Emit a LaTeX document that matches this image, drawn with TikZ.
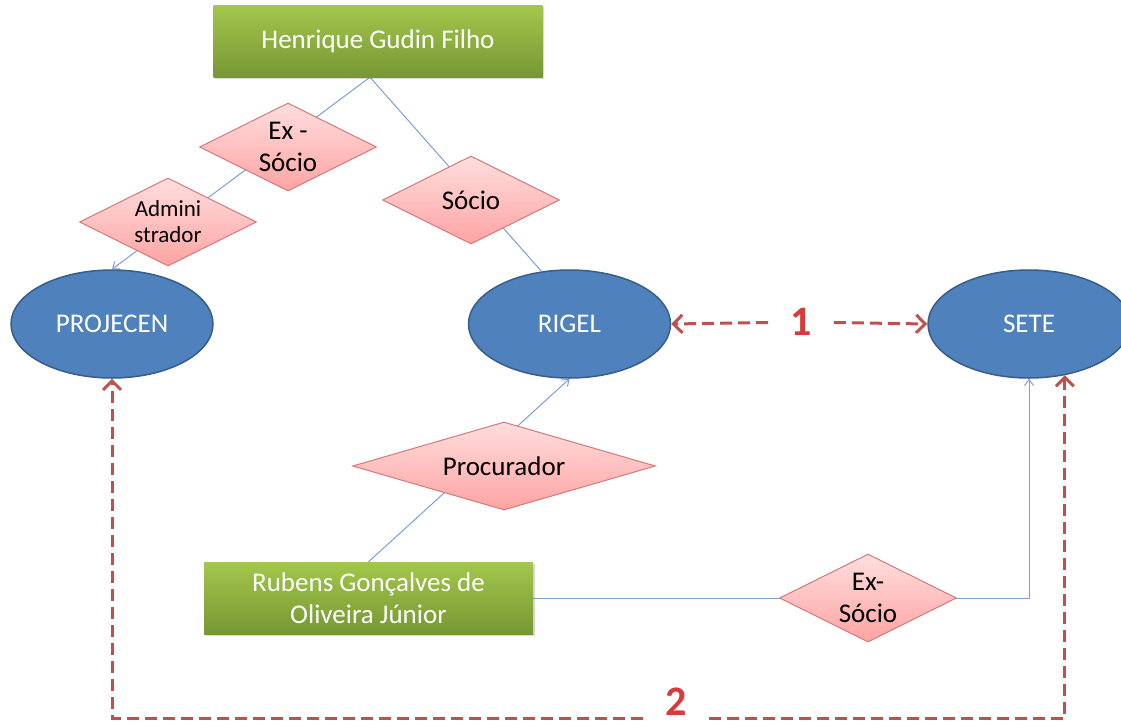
\documentclass[tikz,border=0pt]{standalone}
\usepackage{fontspec}
\setmainfont{Carlito}
\usetikzlibrary{positioning,shapes.geometric,arrows.meta,shadows}
\pgfdeclarelayer{bg}
\pgfsetlayers{bg,main}
\definecolor{greentop}{RGB}{163,199,76}
\definecolor{greenbot}{RGB}{118,151,52}
\definecolor{companyblue}{RGB}{79,129,189}
\definecolor{companyborder}{RGB}{56,93,138}
\definecolor{roletop}{RGB}{255,222,222}
\definecolor{rolebot}{RGB}{255,163,163}
\definecolor{roleborder}{RGB}{214,120,120}
\definecolor{linkblue}{RGB}{124,160,212}
\definecolor{dashred}{RGB}{192,80,77}
\definecolor{numred}{RGB}{218,58,58}
\newcommand{\bigtext}{\fontsize{27}{32}\selectfont}

\begin{document}
\begin{tikzpicture}[x=1pt, y=-1pt,
person/.style={rectangle, draw=none, top color=greentop, bottom color=greenbot, minimum width=329pt, minimum height=72pt, text=white, font=\bigtext, align=center, drop shadow={shadow xshift=1.5pt, shadow yshift=-1.5pt, opacity=0.3}},
company/.style={ellipse, draw=companyborder, line width=1.5pt, fill=companyblue, minimum width=202pt, minimum height=108pt, text=white, font=\bigtext},
role/.style={diamond, draw=roleborder, line width=1pt, top color=roletop, bottom color=rolebot, minimum width=177pt, minimum height=88pt, inner sep=0pt},
roletext/.style={font=\bigtext, align=center},
link/.style={draw=linkblue, line width=1pt},
linkarrow/.style={link, -{Straight Barb[length=6pt, width=9pt]}},
dashlink/.style={draw=dashred, line width=3pt, dash pattern=on 12pt off 6pt, -{Straight Barb[length=9pt, width=18pt]}},
number/.style={text=numred, font=\fontsize{42}{42}\selectfont\bfseries, inner xsep=22pt, inner ysep=1pt}
]
\useasboundingbox (0,0) rectangle (1121,726);

%Nodes
\node[person] (henrique) at (378,41) {Henrique Gudin Filho};
\node[company] (projecen) at (112,324) {PROJECEN};
\node[company] (rigel) [right=254pt of projecen] {RIGEL};
\node[company] (sete) [right=256pt of rigel] {SETE};
\node[role, label={[roletext]center:{Ex -\\Sócio}}] (exsocio) at (288,147) {};
\node[role, label={[roletext, font=\fontsize{23}{26}\selectfont]center:{Admini\\strador}}] (admin) at (168,222) {};
\node[role, label={[roletext]center:Sócio}] (socio) at (471,200) {};
\node[role, minimum width=303pt, label={[roletext]center:Procurador}] (procurador) at (504,466) {};
\node[person] (rubens) at (368.5,598) {Rubens Gonçalves de\\Oliveira Júnior};
\node[role, label={[roletext]center:{Ex-\\Sócio}}] (exsocio2) at (868,598) {};
\node[number] (one) at (801,322) {1};
\node[number] (two) at (676,702) {2};

%Connections
\begin{pgfonlayer}{bg}
\draw[linkarrow] ([xshift=-8pt]henrique.south) -- (projecen.north);
\draw[link] ([xshift=-8pt]henrique.south) -- (rigel.118);
\draw[linkarrow] (rubens.north) -- (rigel.south);
\draw[linkarrow] (rubens.east) -| (sete.south);
\end{pgfonlayer}

\draw[dashlink] (one) -- (rigel.east);
\draw[dashlink] (one) -- (sete.west);
\draw[dashlink] ([yshift=-16pt]two.west) -| (projecen.south);
\draw[dashlink] ([yshift=-16pt]two.east) -| (sete.-55);
\end{tikzpicture}
\end{document}
